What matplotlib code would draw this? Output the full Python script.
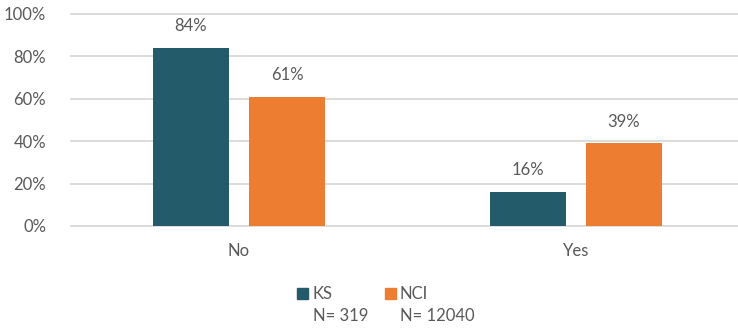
import matplotlib
matplotlib.use("Agg")
import matplotlib.pyplot as plt
from matplotlib.patches import Rectangle
import numpy as np

categories = ["No", "Yes"]
series_names = ["KS", "NCI"]
series_n = ["N= 319", "N= 12040"]
ks_values = [0.84, 0.16]
nci_values = [0.61, 0.39]
colors = ["#235B6A", "#ED7D31"]

plt.rcParams['font.family'] = ['Lato', 'DejaVu Sans']
text_color = "#595959"
grid_color = "#D9D9D9"

W, H = 738, 330
fig = plt.figure(figsize=(W / 100, H / 100), dpi=100)
ax = fig.add_axes([71 / W, (H - 226) / H, (738 - 71) / W, 212 / H])

x = np.arange(len(categories))
unit = 337.0
width = 76 / unit
offset = 48 / unit
for vals, off, c in [(ks_values, -offset, colors[0]), (nci_values, offset, colors[1])]:
    bars = ax.bar(x + off, vals, width=width, color=c, zorder=3)
    for b, v in zip(bars, vals):
        ax.text(b.get_x() + b.get_width() / 2, v + 0.065, f"{round(v*100)}%",
                ha="center", va="bottom", fontsize=12, color=text_color)

ax.set_xlim(-168 / unit, (738 - 239) / unit)
ax.set_ylim(0, 1.0)
ax.set_yticks(np.arange(0, 1.01, 0.2))
ax.set_yticklabels([f"{int(round(t*100))}%" for t in np.arange(0, 1.01, 0.2)])
ax.set_xticks(x)
ax.set_xticklabels(categories)
ax.tick_params(axis="both", length=0, labelsize=12, labelcolor=text_color)
ax.tick_params(axis="y", pad=18)
ax.tick_params(axis="x", pad=12)
ax.yaxis.grid(True, color=grid_color, linewidth=1.3, zorder=0)
ax.set_axisbelow(True)
for s in ax.spines.values():
    s.set_visible(False)
for gl in ax.get_ygridlines():
    gl.set_clip_on(False)

# legend (manual)
leg_items = [(297, 313), (385, 400)]
for (sq_x, tx), name, n, c in zip(leg_items, series_names, series_n, colors):
    fig.patches.append(Rectangle((sq_x / W, (H - 299) / H), 11 / W, 11 / H,
                                 transform=fig.transFigure, color=c, figure=fig))
    fig.text(tx / W, (H - 294) / H, name, ha="left", va="center", fontsize=12, color=text_color)
    fig.text(tx / W, (H - 316) / H, n, ha="left", va="center", fontsize=12, color=text_color)

fig.savefig("out.png", dpi=100)
